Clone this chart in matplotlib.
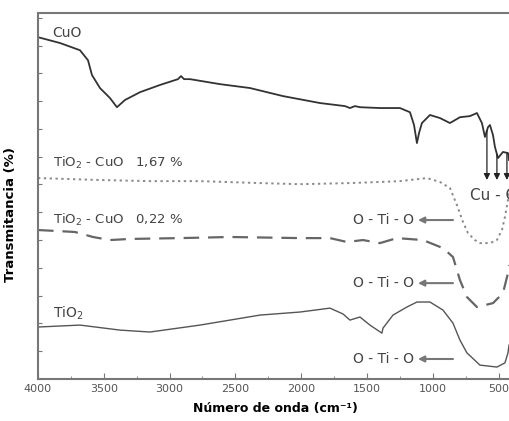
import numpy as np
import matplotlib.pyplot as plt
from matplotlib.ticker import MultipleLocator

# Espectros FTIR (numero de onda em cm-1, transmitancia em unidades arbitrarias)
cuo_x = [4000, 3833, 3681, 3620, 3590, 3529, 3453, 3400, 3339, 3225, 3073, 2936, 2913,
         2890, 2845, 2617, 2389, 2138, 1857, 1667, 1629, 1591, 1553, 1401, 1249, 1173,
         1142, 1120, 1104, 1082, 1021, 945, 869, 793, 717, 664, 626, 603, 580, 565, 542,
         527, 504, 466, 428, 420]
cuo_y = [12.30, 12.09, 11.83, 11.47, 10.94, 10.47, 10.11, 9.78, 10.04, 10.32, 10.58, 10.79,
         10.90, 10.79, 10.79, 10.61, 10.47, 10.18, 9.93, 9.82, 9.75, 9.82, 9.78, 9.75, 9.75,
         9.60, 9.14, 8.49, 8.85, 9.21, 9.50, 9.39, 9.21, 9.42, 9.46, 9.57, 9.21, 8.71, 9.06,
         9.14, 8.78, 8.35, 7.95, 8.17, 8.13, 7.88]

tc167_x = [4000, 3529, 3149, 2769, 2313, 2009, 1629, 1401, 1249, 1044, 945, 869, 816, 770,
           732, 679, 641, 565, 512, 474, 451, 428, 420]
tc167_y = [7.23, 7.16, 7.12, 7.12, 7.05, 7.01, 7.05, 7.09, 7.12, 7.23, 7.09, 6.87, 6.26,
           5.65, 5.25, 5.00, 4.89, 4.89, 5.00, 5.36, 5.83, 6.44, 6.80]

tc022_x = [4000, 3833, 3719, 3582, 3453, 3301, 2921, 2541, 2009, 1781, 1652, 1530, 1401,
           1272, 1074, 922, 846, 793, 740, 664, 542, 466, 428, 420]
tc022_y = [5.36, 5.32, 5.29, 5.11, 5.00, 5.04, 5.07, 5.11, 5.07, 5.07, 4.93, 5.00, 4.89,
           5.07, 5.00, 4.71, 4.39, 3.56, 2.95, 2.59, 2.73, 3.09, 3.81, 4.10]

tio2_x = [4000, 3681, 3377, 3149, 2769, 2313, 2009, 1781, 1682, 1629, 1553, 1477, 1386,
          1378, 1302, 1196, 1120, 1021, 922, 846, 793, 740, 641, 512, 451, 428, 420]
tio2_y = [1.87, 1.94, 1.76, 1.69, 1.94, 2.30, 2.41, 2.55, 2.34, 2.12, 2.23, 1.94, 1.65,
          1.83, 2.30, 2.59, 2.77, 2.77, 2.48, 2.01, 1.40, 0.94, 0.50, 0.43, 0.58, 0.94, 1.22]

# posicoes das bandas Cu-O
bandas_cuo = [588, 512, 436]

fig = plt.figure(figsize=(5.09, 4.21), dpi=100)
ax = fig.add_axes([38 / 509, 42 / 421, 478 / 509, 366 / 421])

ax.plot(cuo_x, cuo_y, color='#333333', lw=1.3)
ax.plot(tc167_x, tc167_y, color='#8a8a8a', lw=1.4, linestyle=(0, (1.2, 1.8)))
ax.plot(tc022_x, tc022_y, color='#666666', lw=1.6, linestyle=(0, (7, 4)))
ax.plot(tio2_x, tio2_y, color='#555555', lw=1.0)

ax.set_xlim(4000, 367)
ax.set_ylim(0, 13.17)

# Rotulos das curvas
cor_texto = '#444444'
ax.text(3894, 12.45, 'CuO', fontsize=10, color=cor_texto, va='center')
ax.text(3886, 7.77, 'TiO$_2$ - CuO   1,67 %', fontsize=9.5, color=cor_texto, va='center')
ax.text(3886, 5.72, 'TiO$_2$ - CuO   0,22 %', fontsize=9.5, color=cor_texto, va='center')
ax.text(3886, 2.37, 'TiO$_2$', fontsize=10, color=cor_texto, va='center')

# Setas Cu-O
for xb in bandas_cuo:
    yb = np.interp(xb, cuo_x[::-1], cuo_y[::-1])
    ax.annotate('', xy=(xb, 7.16), xytext=(xb, yb),
                arrowprops=dict(arrowstyle='-|>', color='#222222', lw=0.9,
                                mutation_scale=9, shrinkA=0, shrinkB=0))
ax.text(717, 6.62, 'Cu - O', fontsize=11, color=cor_texto, va='center', clip_on=False)

# Setas O-Ti-O
for yo in [5.72, 3.45, 0.72]:
    ax.annotate('', xy=(1112, yo), xytext=(846, yo),
                arrowprops=dict(arrowstyle='-|>', color='#777777', lw=1.5,
                                mutation_scale=9, shrinkA=0, shrinkB=0))
    ax.text(1140, yo, 'O - Ti - O', fontsize=10, color=cor_texto, va='center', ha='right')

# Eixos
ax.xaxis.set_major_locator(MultipleLocator(500))
ax.xaxis.set_minor_locator(MultipleLocator(250))
ax.yaxis.set_major_locator(MultipleLocator(1))
ax.tick_params(axis='x', which='major', direction='in', length=4, colors='#777777',
               labelcolor='#555555', labelsize=8)
ax.tick_params(axis='x', which='minor', direction='in', length=2, colors='#777777')
ax.tick_params(axis='y', direction='in', length=3, colors='#777777', labelleft=False)
for lado in ['left', 'bottom', 'top', 'right']:
    ax.spines[lado].set_color('#777777')
    ax.spines[lado].set_linewidth(1.5)

ax.set_xlabel('Número de onda (cm⁻¹)', fontsize=9, fontweight='bold')
ax.set_ylabel('Transmitancia (%)', fontsize=9.5, fontweight='bold')
ax.xaxis.set_label_coords(0.496, -0.064)
ax.yaxis.set_label_coords(-0.044, 0.45)

plt.savefig('out.png', dpi=100)
